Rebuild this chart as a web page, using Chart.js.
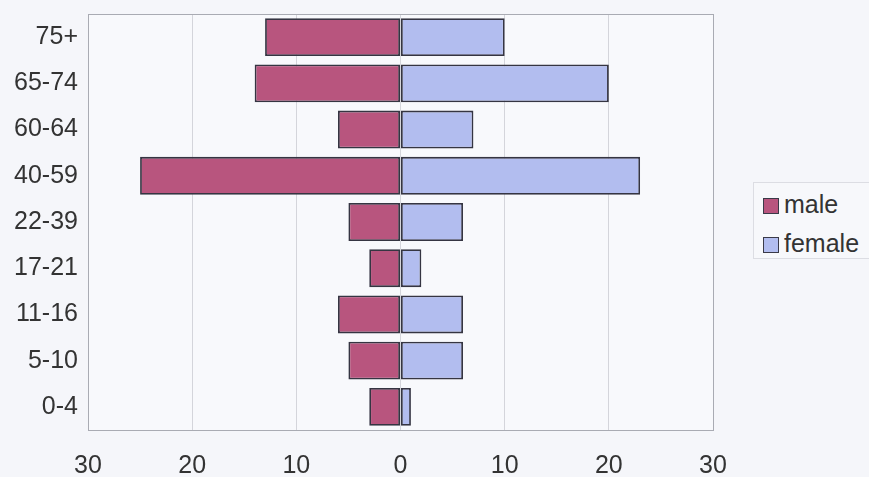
<!DOCTYPE html>
<html>
<head>
<meta charset="utf-8">
<script src="https://cdn.jsdelivr.net/npm/chart.js@4/dist/chart.umd.min.js"></script>
<style>
  html, body { margin: 0; padding: 0; background: #f5f6fa; }
  #wrap { position: relative; width: 869px; height: 477px; overflow: hidden; }
  #legend { position: absolute; left: 753px; top: 182px; width: 130px; height: 77px;
    border: 1px solid #dcdde3; box-sizing: border-box; background: #f7f8fb;
    font-family: "Liberation Sans", Arial, sans-serif; font-size: 25px; color: #333; }
  .item { position: absolute; left: 9px; height: 30px; line-height: 30px; white-space: nowrap; }
  .sw { display: inline-block; width: 14px; height: 14px; border: 1px solid #3a3a48; margin-right: 5px; vertical-align: -1px; }
</style>
</head>
<body>
<div id="wrap">
  <canvas id="c" width="869" height="477"></canvas>
  <div id="legend">
    <div class="item" style="top:6px"><span class="sw" style="background:#b8557e"></span>male</div>
    <div class="item" style="top:45px"><span class="sw" style="background:#b2bdef"></span>female</div>
  </div>
</div>
<script>
const categories = ['75+', '65-74', '60-64', '40-59', '22-39', '17-21', '11-16', '5-10', '0-4'];
const maleValues = [13, 14, 6, 25, 5, 3, 6, 5, 3];
const femaleValues = [10, 20, 7, 23, 6, 2, 6, 6, 1];
const xTicks = [-30, -20, -10, 0, 10, 20, 30];

const frame = {
  id: 'frame',
  afterDraw(chart) {
    const { ctx, chartArea: a } = chart;
    ctx.save();
    ctx.strokeStyle = '#a9abb3';
    ctx.lineWidth = 1;
    ctx.strokeRect(a.left + 0.5, a.top + 0.5, a.right - a.left, a.bottom - a.top);
    ctx.restore();
  }
};
const bg = {
  id: 'bg',
  beforeDraw(chart) {
    const { ctx, chartArea: a } = chart;
    ctx.save();
    ctx.fillStyle = '#f8f9fc';
    ctx.fillRect(a.left, a.top, a.right - a.left, a.bottom - a.top);
    ctx.restore();
  }
};

new Chart(document.getElementById('c'), {
  type: 'bar',
  data: {
    labels: categories,
    datasets: [
      { label: 'male', data: maleValues.map(v => -v), backgroundColor: '#b8557e',
        borderColor: '#353542', borderWidth: 1.8, borderSkipped: false,
        barPercentage: 0.82, categoryPercentage: 1 },
      { label: 'female', data: femaleValues, backgroundColor: '#b2bdef',
        borderColor: '#353542', borderWidth: 1.8, borderSkipped: false,
        barPercentage: 0.82, categoryPercentage: 1 }
    ]
  },
  options: {
    indexAxis: 'y',
    responsive: false,
    animation: false,
    layout: { padding: { top: 14, right: 156, left: 0, bottom: 0 } },
    plugins: { legend: { display: false }, tooltip: { enabled: false } },
    scales: {
      x: {
        stacked: true, min: -30, max: 30,
        afterBuildTicks(scale) { scale.ticks = xTicks.map(v => ({ value: v })); },
        ticks: { callback: v => Math.abs(v), color: '#333', padding: 21,
          font: { family: 'Liberation Sans', size: 25 } },
        grid: { color: '#d4d5db', drawTicks: false },
        border: { display: false },
        afterFit(scale) { scale.height = 47; scale.paddingLeft = 0; scale.paddingRight = 0; }
      },
      y: {
        stacked: true,
        ticks: { color: '#333', padding: 10, font: { family: 'Liberation Sans', size: 25 } },
        grid: { display: false, drawTicks: false },
        border: { display: false },
        afterFit(scale) { scale.width = 88; scale.paddingTop = 0; scale.paddingBottom = 0; }
      }
    }
  },
  plugins: [bg, frame]
});
</script>
</body>
</html>
